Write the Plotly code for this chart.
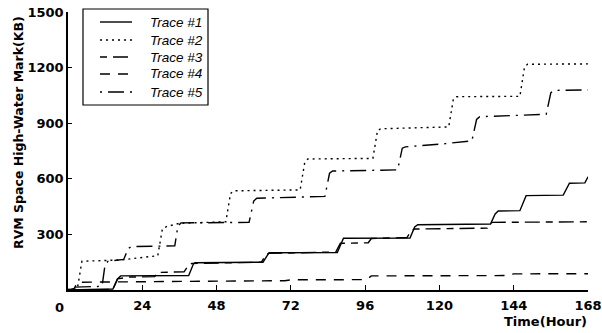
import plotly.graph_objects as go

# ---- data (hours, KB) ----
t1 = [0, 14.5, 16, 17, 39, 40.5, 41, 63, 64.5, 65, 87, 88.5, 89, 110.5, 112, 113, 136.5, 138, 139, 146, 147.5, 148, 160, 161.5, 162, 167, 168]
v1 = [0, 5, 60, 76, 78, 140, 147, 150, 190, 201, 202, 265, 279, 280, 340, 352, 356, 410, 426, 428, 490, 509, 512, 565, 576, 578, 611]

t2 = [0, 3, 4.5, 17, 29, 30.5, 32, 36, 51, 52.5, 53.5, 75, 76.5, 77.5, 98.5, 100, 101, 123, 124.5, 125.5, 146, 147.5, 148.5, 168]
v2 = [0, 5, 155, 162, 185, 330, 343, 360, 368, 520, 535, 540, 690, 707, 710, 860, 870, 880, 1030, 1043, 1045, 1205, 1218, 1220]

t3 = [0, 14.5, 16, 20, 28, 29, 37.5, 39, 40, 62.5, 64, 65, 86.5, 88, 97, 98, 109.5, 111, 112, 135.5, 137, 168]
v3 = [0, 3, 60, 70, 72, 95, 98, 135, 143, 150, 192, 198, 205, 252, 255, 278, 283, 322, 329, 334, 365, 368]

t4 = [0, 2, 3, 48, 50, 70, 72, 96.5, 98, 142, 144, 168]
v4 = [0, 8, 42, 44, 48, 50, 55, 56, 76, 78, 87, 88]

t5 = [0, 1, 11, 12, 13, 18, 19.5, 20.5, 34.5, 35.5, 36.5, 58.5, 60, 61, 83, 84.5, 85.5, 106.5, 108, 109, 122, 130.5, 132, 133, 154.5, 156, 157, 168]
v5 = [0, 15, 20, 140, 156, 165, 225, 234, 238, 345, 362, 365, 480, 495, 505, 630, 642, 648, 765, 772, 790, 805, 920, 935, 948, 1065, 1077, 1080]

names = ["Trace #1", "Trace #2", "Trace #3", "Trace #4", "Trace #5"]
x_ticks = [0, 24, 48, 72, 96, 120, 144, 168]
y_ticks = [300, 600, 900, 1200, 1500]

series = [(t1, v1), (t2, v2), (t3, v3), (t4, v4), (t5, v5)]
dashes = ["solid", "2px,4px", "7px,6px,15px,6px", "10px,8px", "2px,6px,16px,6px"]

# layout geometry (pixels)
W, H = 602, 333
ML, MR, MT, MB = 68, 14, 12, 43
PW, PH = W - ML - MR, H - MT - MB


def px(xp):
    return (xp - ML) / PW


def py(yp):
    return (H - MB - yp) / PH


fig = go.Figure()
for (tx, vy), nm, d in zip(series, names, dashes):
    fig.add_trace(go.Scatter(x=tx, y=vy, mode="lines", name=nm, showlegend=False,
                             line=dict(color="black", width=1.4, dash=d)))

tickfont = dict(family="DejaVu Sans", size=13, color="black", weight="bold")
legfont = dict(family="Liberation Sans", size=13.5, style="italic", color="black")

shapes = [dict(type="rect", xref="paper", yref="paper",
               x0=px(83), x1=px(208), y0=py(105), y1=py(9),
               line=dict(color="black", width=1.2), fillcolor="white", layer="above")]
annotations = []
row_y = [22, 40, 57, 74, 92]
for nm, d, ry in zip(names, dashes, row_y):
    shapes.append(dict(type="line", xref="paper", yref="paper",
                       x0=px(100), x1=px(132), y0=py(ry), y1=py(ry),
                       line=dict(color="black", width=1.4, dash=d), layer="above"))
    annotations.append(dict(text=nm, xref="paper", yref="paper", x=px(148), y=py(ry),
                            xanchor="left", yanchor="middle", showarrow=False, font=legfont))

annotations += [
    dict(text="RVM Space High-Water Mark(KB)", xref="paper", yref="paper",
         x=px(18), y=py(133), xanchor="center", yanchor="middle", textangle=-90,
         showarrow=False, font=dict(tickfont, size=12.5)),
    dict(text="Time(Hour)", xref="paper", yref="paper", x=px(589), y=py(312),
         xanchor="right", yanchor="top", showarrow=False, font=tickfont),
    dict(text="0", xref="paper", yref="paper", x=px(59), y=py(298),
         xanchor="center", yanchor="top", showarrow=False, font=tickfont),
]

fig.update_layout(
    width=W, height=H,
    margin=dict(l=ML, r=MR, t=MT, b=MB, autoexpand=False),
    paper_bgcolor="white", plot_bgcolor="white",
    showlegend=False,
    xaxis=dict(range=[0, 168], tickvals=x_ticks, ticktext=["" if v == 0 else str(v) for v in x_ticks],
               ticks="inside", ticklen=5, tickcolor="black", showline=True, linecolor="black",
               linewidth=1.5, showgrid=False, zeroline=False, tickfont=tickfont,
               ticklabelstandoff=3),
    yaxis=dict(range=[0, 1500], tickvals=y_ticks, ticks="inside", ticklen=4, tickcolor="black",
               showline=True, linecolor="black", linewidth=1.5, showgrid=False, zeroline=False,
               tickfont=tickfont),
    shapes=shapes,
    annotations=annotations,
)

fig.write_html("out.html", config={"displayModeBar": False},
               post_script="document.body.style.margin='0';document.body.style.overflow='hidden';")
